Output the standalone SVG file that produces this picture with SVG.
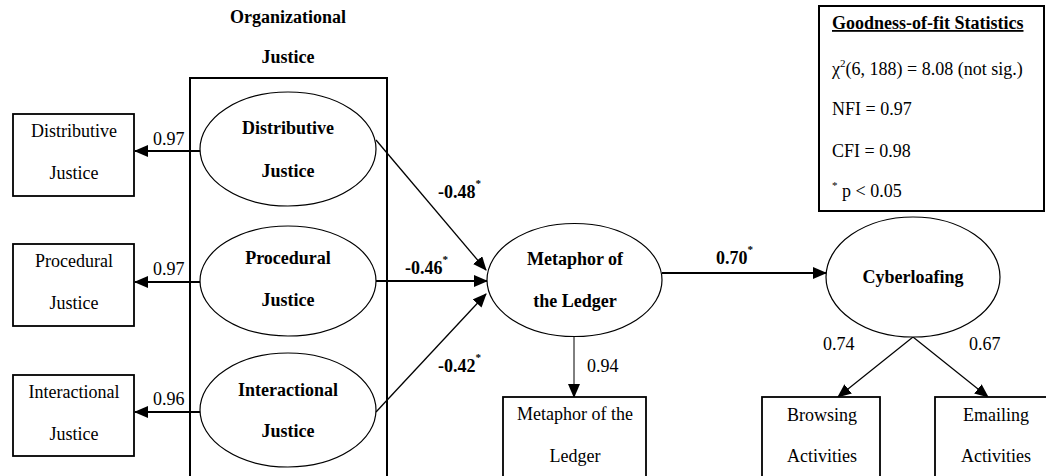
<svg xmlns="http://www.w3.org/2000/svg" width="1046" height="476" viewBox="0 0 1046 476" font-family="'Liberation Serif', 'Times New Roman', 'DejaVu Serif', serif">
<style>
text{font-family:'Liberation Serif','Times New Roman','DejaVu Serif',serif;font-size:18px;fill:#000}
.b{font-weight:bold}
.m{text-anchor:middle}
.box{fill:#fff;stroke:#000;stroke-width:1.8}
.ell{fill:#fff;stroke:#000;stroke-width:1.2}
.ln{stroke:#000;fill:none}
.sup{font-size:11px}
</style>
<defs>
<marker id="ah" markerUnits="userSpaceOnUse" markerWidth="14" markerHeight="12" refX="13" refY="6" orient="auto">
<path d="M0,0 L14,6 L0,12 Z" fill="#000"/>
</marker>
</defs>
<rect x="0" y="0" width="1046" height="476" fill="#fff"/>
<g id="org-justice">
<text class="b m" x="288" y="23">Organizational</text>
<text class="b m" x="288" y="63">Justice</text>
<rect x="190" y="78" width="197" height="410" fill="none" stroke="#000" stroke-width="2"/>
</g>
<g id="connectors">
<line class="ln" x1="200" y1="151" x2="135" y2="151" stroke-width="2" marker-end="url(#ah)"/>
<line class="ln" x1="200" y1="282" x2="135" y2="282" stroke-width="2" marker-end="url(#ah)"/>
<line class="ln" x1="200" y1="412" x2="135" y2="412" stroke-width="2" marker-end="url(#ah)"/>
<line class="ln" x1="376" y1="140" x2="486" y2="270" stroke-width="1.3" marker-end="url(#ah)"/>
<line class="ln" x1="376" y1="281" x2="487" y2="281" stroke-width="2" marker-end="url(#ah)"/>
<line class="ln" x1="376" y1="412" x2="486" y2="294" stroke-width="1.3" marker-end="url(#ah)"/>
<line class="ln" x1="662" y1="273" x2="826" y2="273" stroke-width="2" marker-end="url(#ah)"/>
<line class="ln" x1="574" y1="336" x2="574" y2="397" stroke-width="1" marker-end="url(#ah)"/>
<line class="ln" x1="913" y1="337" x2="838" y2="397" stroke-width="1.3" marker-end="url(#ah)"/>
<line class="ln" x1="913" y1="337" x2="988" y2="397" stroke-width="1.3" marker-end="url(#ah)"/>
<text x="153" y="145">0.97</text>
<text x="153" y="275">0.97</text>
<text x="153" y="405">0.96</text>
<text class="b" x="438" y="198">-0.48<tspan class="sup" dy="-11">*</tspan></text>
<text class="b" x="405" y="274">-0.46<tspan class="sup" dy="-11">*</tspan></text>
<text class="b" x="438" y="372">-0.42<tspan class="sup" dy="-11">*</tspan></text>
<text class="b" x="716" y="264">0.70<tspan class="sup" dy="-11">*</tspan></text>
<text x="587" y="372">0.94</text>
<text x="823" y="350">0.74</text>
<text x="969" y="350">0.67</text>
</g>
<g id="box-distributive">
<rect class="box" x="13" y="114" width="121" height="82"/>
<text class="m" x="74" y="137">Distributive</text>
<text class="m" x="74" y="179">Justice</text>
</g>
<g id="box-procedural">
<rect class="box" x="13" y="244" width="121" height="82"/>
<text class="m" x="74" y="267">Procedural</text>
<text class="m" x="74" y="309">Justice</text>
</g>
<g id="box-interactional">
<rect class="box" x="13" y="375" width="121" height="81"/>
<text class="m" x="74" y="398">Interactional</text>
<text class="m" x="74" y="440">Justice</text>
</g>
<g id="ell-distributive">
<ellipse class="ell" cx="288" cy="149" rx="88" ry="57"/>
<text class="b m" x="288" y="134">Distributive</text>
<text class="b m" x="288" y="177">Justice</text>
</g>
<g id="ell-procedural">
<ellipse class="ell" cx="288" cy="281" rx="88" ry="55"/>
<text class="b m" x="288" y="264">Procedural</text>
<text class="b m" x="288" y="306">Justice</text>
</g>
<g id="ell-interactional">
<ellipse class="ell" cx="288" cy="410" rx="88" ry="57"/>
<text class="b m" x="288" y="396">Interactional</text>
<text class="b m" x="288" y="437">Justice</text>
</g>
<g id="ell-metaphor">
<ellipse class="ell" cx="574.5" cy="280" rx="87.5" ry="56.5"/>
<text class="b m" x="575" y="265">Metaphor of</text>
<text class="b m" x="575" y="307">the Ledger</text>
</g>
<g id="ell-cyberloafing">
<ellipse class="ell" cx="913" cy="277" rx="87" ry="60"/>
<text class="b m" x="913" y="283">Cyberloafing</text>
</g>
<g id="box-metaphor">
<rect class="box" x="503" y="397" width="143" height="90"/>
<text class="m" x="575" y="420">Metaphor of the</text>
<text class="m" x="575" y="462">Ledger</text>
</g>
<g id="box-browsing">
<rect class="box" x="762" y="397" width="118" height="90"/>
<text class="m" x="822" y="421">Browsing</text>
<text class="m" x="822" y="462">Activities</text>
</g>
<g id="box-emailing">
<rect class="box" x="935" y="397" width="120" height="90"/>
<text class="m" x="996" y="421">Emailing</text>
<text class="m" x="996" y="462">Activities</text>
</g>
<g id="fit-stats">
<rect x="819" y="6" width="225" height="205" fill="#fff" stroke="#000" stroke-width="2"/>
<text class="b" x="832" y="29" text-decoration="underline">Goodness-of-fit Statistics</text>
<text x="832" y="75">χ<tspan class="sup" dy="-8">2</tspan><tspan dy="8">(6, 188) = 8.08 (not sig.)</tspan></text>
<text x="832" y="115">NFI = 0.97</text>
<text x="832" y="157">CFI = 0.98</text>
<text x="832" y="197"><tspan class="sup" dy="-8">*</tspan><tspan dy="8"> p &lt; 0.05</tspan></text>
</g>
</svg>
